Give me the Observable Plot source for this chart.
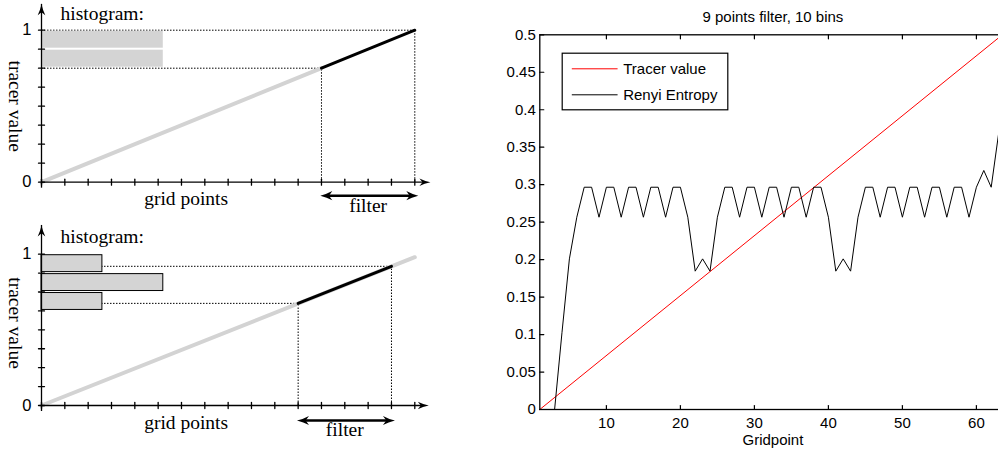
<!DOCTYPE html>
<html><head><meta charset="utf-8">
<script src="https://cdn.jsdelivr.net/npm/d3@7"></script>
<script src="https://cdn.jsdelivr.net/npm/@observablehq/plot@0.6"></script>
<style>
html,body{margin:0;padding:0;background:#fff;overflow:hidden;width:998px;height:456px;}
.panel{position:absolute;}
.panel svg{max-width:none !important;}
</style></head><body>
<div id="top" class="panel" style="left:0;top:0;width:440px;height:220px"></div>
<div id="bottom" class="panel" style="left:0;top:220px;width:440px;height:236px"></div>
<div id="right" class="panel" style="left:440px;top:0;width:558px;height:456px;overflow:hidden"></div>
<script>
// ---------- schematic (left) data ----------
const schemGridTicks = [0,1,2,3,4,5,6,7,8,9,10,11,12,13,14,15,16];
const schemValueTicks = [0,0.125,0.25,0.375,0.5,0.625,0.75,0.875,1];
const schemValueLabels = ["0","1"];
const schemValueLabelAt = [0,1];
const schemTexts = ["histogram:","tracer value","grid points","filter"];

// top schematic
const topLineX = [0,12];
const topLineY = [0,0.75];
const topFilterX = [12,16];
const topFilterY = [0.75,1];
const topBinLo = [0.75,0.875];
const topBinHi = [0.875,1];
const topBinCount = [2,2];

// bottom schematic
const botLineX = [0,16];
const botLineY = [0,0.98];
const botFilterX = [11,15];
const botFilterY = [0.675,0.92];
const botBinLo = [0.625,0.75,0.875];
const botBinHi = [0.75,0.875,1];
const botBinCount = [1,2,1];

// ---------- right chart data ----------
const chartTitle = "9 points filter, 10 bins";
const xLabel = "Gridpoint";
const legendLabels = ["Tracer value","Renyi Entropy"];
const legendColors = ["red","black"];
const gridpoint = [1,2,3,4,5,6,7,8,9,10,11,12,13,14,15,16,17,18,19,20,21,22,23,24,25,26,27,28,29,30,31,32,33,34,35,36,37,38,39,40,41,42,43,44,45,46,47,48,49,50,51,52,53,54,55,56,57,58,59,60,61,62,63];
const renyi = [0,0,0,0.103,0.201,0.2566,
  0.2966,0.2966,0.2566,0.2966,0.2966,0.2566,0.2966,0.2966,0.2566,0.2966,0.2966,0.2566,0.2966,0.2966,
  0.2566,0.1846,0.201,0.1846,0.2566,
  0.2966,0.2966,0.2566,0.2966,0.2966,0.2566,0.2966,0.2966,0.2566,0.2966,0.2966,0.2566,0.2966,0.2966,
  0.2566,0.1846,0.201,0.1846,0.2566,
  0.2966,0.2966,0.2566,0.2966,0.2966,0.2566,0.2966,0.2966,0.2566,0.2966,0.2966,0.2566,0.2966,0.2966,
  0.2566,0.2966,0.319,0.2966,0.368];
const tracerX = [1,63.5];
const tracerY = [0,0.5];
const xTicks = [10,20,30,40,50,60];
const yTicks = [0,0.05,0.1,0.15,0.2,0.25,0.3,0.35,0.4,0.45,0.5];

// ---------- shapes ----------
const tickShape = {draw(c,l){c.moveTo(0,0);c.lineTo(0,-l);}};
const headShape = {draw(c,l,r){c.moveTo(0,-l);c.quadraticCurveTo(r*0.35,-l*0.45,r,0);c.lineTo(0,-l*0.28);c.lineTo(-r,0);c.quadraticCurveTo(-r*0.35,-l*0.45,0,-l);c.closePath();}};

const SERIF = "'Liberation Serif','Times New Roman',serif";
const SANS = "'Liberation Sans',Arial,Helvetica,sans-serif";

function schematic(o){
  const countUnit = 2.61; // grid units per histogram count
  const bins = o.binLo.map((lo,i)=>({lo, hi:o.binHi[i], n:o.binCount[i]}));
  const line = o.lineX.map((x,i)=>({x, y:o.lineY[i]}));
  const filt = o.filterX.map((x,i)=>({x, y:o.filterY[i]}));
  const dotted = {stroke:"black", strokeWidth:1, strokeDasharray:"1.5,1.5"};
  const fs = o.filterX[0], fe = o.filterX[1];
  return Plot.plot({
    width:440, height:o.height,
    marginLeft:0, marginRight:0, marginTop:0, marginBottom:0,
    x:{domain:[0,16], range:[41,414.3], axis:null},
    y:{domain:[0,1], range:o.yRange, axis:null},
    style:{background:"transparent", overflow:"visible", color:"black"},
    marks:[
      Plot.ruleY(filt, {y:"y", x1:0, x2:"x", ...dotted}),
      Plot.ruleX(filt, {x:"x", y1:0, y2:"y", ...dotted}),
      Plot.rect(bins, {x1:0, x2:d=>d.n*countUnit, y1:"lo", y2:"hi", fill:"#d4d4d4", stroke:o.barStroke, strokeWidth:1, insetTop:1, insetBottom:1}),
      Plot.line(line, {x:"x", y:"y", stroke:"#d3d3d3", strokeWidth:4}),
      Plot.line(filt, {x:"x", y:"y", stroke:"black", strokeWidth:3}),
      // axes
      Plot.ruleY([0], {y:d=>d, x1:0, x2:o.xTip, insetRight:6, stroke:"black", strokeWidth:1.3}),
      Plot.ruleX([0], {x:d=>d, y1:0, y2:o.yTip, insetTop:6, stroke:"black", strokeWidth:1.3}),
      Plot.vector(schemGridTicks, {x:d=>d, y:0, length:6, anchor:"middle", shape:tickShape, stroke:"black", strokeWidth:1.3}),
      Plot.vector(schemValueTicks, {x:0, y:d=>d, length:6, rotate:90, anchor:"middle", shape:tickShape, stroke:"black", strokeWidth:1.3}),
      Plot.vector([o.xTip], {x:d=>d, y:0, length:11, r:3.8, rotate:90, anchor:"end", shape:headShape, fill:"black", stroke:"none"}),
      Plot.vector([o.yTip], {x:0, y:d=>d, length:11, r:3.8, rotate:0, anchor:"end", shape:headShape, fill:"black", stroke:"none"}),
      // value labels
      Plot.text(schemValueLabels, {x:0, y:(d,i)=>schemValueLabelAt[i], text:d=>d, dx:-10, textAnchor:"end", lineAnchor:"middle", fontFamily:SANS, fontSize:16.5, fill:"black"}),
      // text annotations
      Plot.text([schemTexts[0]], {x:0, y:1, text:d=>d, dx:19, dy:o.histDy, textAnchor:"start", lineAnchor:"bottom", fontFamily:SERIF, fontSize:19.5, fill:"black"}),
      Plot.text([schemTexts[1]], {x:0, y:o.yLabelAt, text:d=>d, dx:-26, rotate:90, lineAnchor:"middle", fontFamily:SERIF, fontSize:19.5, fill:"black"}),
      Plot.text([schemTexts[2]], {x:6.2, y:0, text:d=>d, dy:23, lineAnchor:"bottom", fontFamily:SERIF, fontSize:19.5, fill:"black"}),
      Plot.text([schemTexts[3]], {x:(fs+fe)/2, y:0, text:d=>d, dy:30, lineAnchor:"bottom", fontFamily:SERIF, fontSize:19.5, fill:"black"}),
      // filter double arrow
      Plot.ruleY([0], {y:d=>d, x1:fs-0.05, x2:fe+0.15, dy:o.arrowDy, insetLeft:6, insetRight:6, stroke:"black", strokeWidth:2.4}),
      Plot.vector([fs-0.05], {x:d=>d, y:0, dy:o.arrowDy, length:12, r:4.6, rotate:-90, anchor:"end", shape:headShape, fill:"black", stroke:"none"}),
      Plot.vector([fe+0.15], {x:d=>d, y:0, dy:o.arrowDy, length:12, r:4.6, rotate:90, anchor:"end", shape:headShape, fill:"black", stroke:"none"})
    ]
  });
}

document.getElementById("top").append(schematic({
  lineX:topLineX, lineY:topLineY, filterX:topFilterX, filterY:topFilterY,
  binLo:topBinLo, binHi:topBinHi, binCount:topBinCount, barStroke:"none",
  height:220, yRange:[181.7,29.7], xTip:16.67, yTip:1.17, yLabelAt:0.5, histDy:-10.5, arrowDy:13.5
}));
document.getElementById("bottom").append(schematic({
  lineX:botLineX, lineY:botLineY, filterX:botFilterX, filterY:botFilterY,
  binLo:botBinLo, binHi:botBinHi, binCount:botBinCount, barStroke:"black",
  height:236, yRange:[185,33.7], xTip:16.6, yTip:1.19, yLabelAt:0.545, histDy:-11, arrowDy:15
}));

// ---------- right chart ----------
const renyiData = gridpoint.map((g,i)=>({g, v:renyi[i]}));
const tracerData = tracerX.map((g,i)=>({g, v:tracerY[i]}));
const lineShape = tickShape;
const legendMarks = legendLabels.flatMap((lab,i)=>[
  Plot.vector([lab], {frameAnchor:"top-left", dx:32.4, dy:34+26*i, length:45, rotate:90, anchor:"start", shape:lineShape, stroke:legendColors[i], strokeWidth:1}),
  Plot.text([lab], {frameAnchor:"top-left", text:d=>d, dx:83.4, dy:34+26*i, textAnchor:"start", lineAnchor:"middle", fill:"black", fontSize:15})
]);

const rightSvg = Plot.plot({
  width:570, height:456,
  marginLeft:99.3, marginRight:4.5, marginTop:34.3, marginBottom:47,
  x:{domain:[1,64], range:[99.3,565.5], label:null},
  y:{domain:[0,0.5], range:[409,34.3], label:null},
  style:{fontFamily:SANS, fontSize:"15px", color:"black", background:"white", overflow:"visible"},
  marks:[
    Plot.line(tracerData, {x:"g", y:"v", stroke:"red", strokeWidth:1}),
    Plot.line(renyiData, {x:"g", y:"v", stroke:"black", strokeWidth:1}),
    Plot.frame({stroke:"black", strokeWidth:1.3}),
    Plot.vector(xTicks, {x:d=>d, frameAnchor:"bottom", length:4, rotate:0, anchor:"start", shape:tickShape, stroke:"black", strokeWidth:1.2}),
    Plot.vector(xTicks, {x:d=>d, frameAnchor:"top", length:4, rotate:180, anchor:"start", shape:tickShape, stroke:"black", strokeWidth:1.2}),
    Plot.vector(yTicks, {y:d=>d, frameAnchor:"left", length:4, rotate:90, anchor:"start", shape:tickShape, stroke:"black", strokeWidth:1.2}),
    Plot.axisX({ticks:xTicks, anchor:"bottom", tickSize:0, tickPadding:8, tickFormat:d=>`${d}`, label:null, fontSize:15}),
    Plot.axisY({ticks:yTicks, anchor:"left", tickSize:0, tickPadding:4, tickFormat:d=>`${d}`, label:null, fontSize:15}),
    Plot.text([chartTitle], {frameAnchor:"top", text:d=>d, dy:-13.3, lineAnchor:"bottom", fill:"black", fontSize:15}),
    Plot.text([xLabel], {frameAnchor:"bottom", text:d=>d, dy:35.5, lineAnchor:"bottom", fill:"black", fontSize:15}),
    Plot.frame({fill:"white", stroke:"black", strokeWidth:1.2, insetLeft:22.4, insetTop:18.4, insetRight:278.2, insetBottom:299.7}),
    ...legendMarks
  ]
});
rightSvg.style.maxWidth = "none";
document.getElementById("right").append(rightSvg);
</script>
</body></html>
